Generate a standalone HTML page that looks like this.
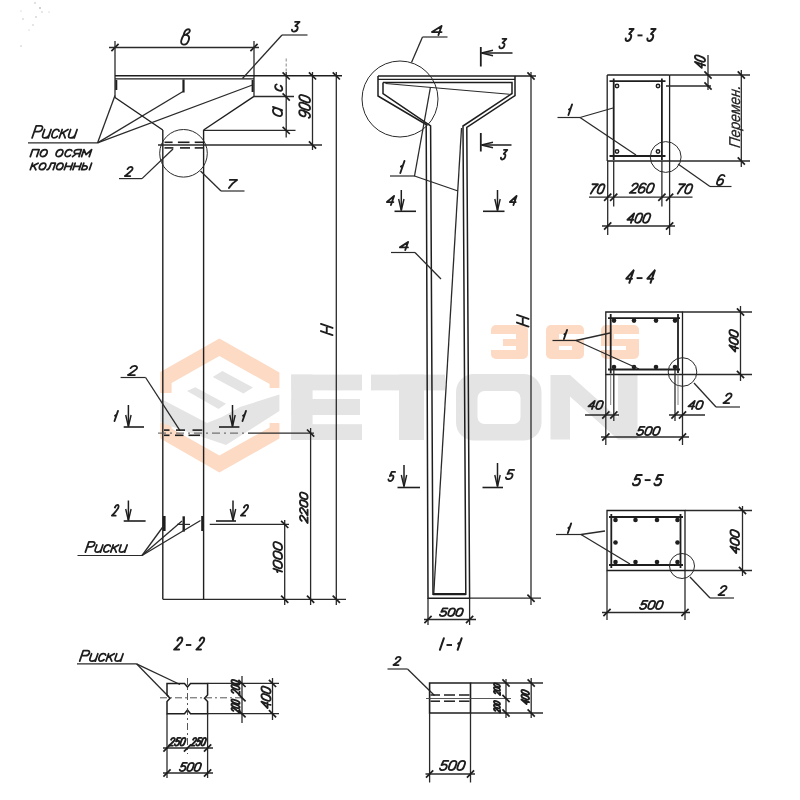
<!DOCTYPE html>
<html><head><meta charset="utf-8"><title>drawing</title>
<style>html,body{margin:0;padding:0;background:#fff;}body{width:800px;height:800px;overflow:hidden;font-family:"Liberation Sans",sans-serif;}svg{display:block;}</style>
</head><body>
<svg width="800" height="800" viewBox="0 0 800 800" font-family="Liberation Sans, sans-serif" style="will-change:transform">
<polygon points="160.3,393 160.3,372 219.4,338.4 279.4,372.5 279.4,388 269.6,388 269.6,384 219.4,356 171.6,383 171.6,393" fill="#fcdac3"/>
<polygon points="160.3,423 160.3,438.5 219.4,472.5 279.4,438.5 279.4,423 269.6,423 269.6,427.5 219.4,455.6 171.6,428.5 171.6,423" fill="#fcdac3"/>
<polygon points="212.75,377 222.4,370.9 253,387.5 243.4,393.6" fill="#e4e4e4"/>
<polygon points="187,391 195.25,387.25 226,403.75 218.5,409" fill="#e4e4e4"/>
<polygon points="160.3,398.5 207,423 222,417 240,407 279.4,394.5 279.4,411 226,445 160.3,422.5" fill="#e4e4e4"/>
<rect x="291.2" y="374.6" width="70.8" height="15.8" fill="#e4e4e4"/>
<rect x="291.2" y="374.6" width="21.4" height="65.4" fill="#e4e4e4"/>
<rect x="291.2" y="399" width="68.8" height="16" fill="#e4e4e4"/>
<rect x="291.2" y="424.2" width="70.8" height="15.8" fill="#e4e4e4"/>
<rect x="371" y="374.6" width="74" height="15.8" fill="#e4e4e4"/>
<rect x="399" y="374.6" width="25" height="65.4" fill="#e4e4e4"/>
<rect x="456" y="374" width="85.5" height="66.5" rx="18" fill="#e4e4e4"/>
<rect x="477.5" y="391" width="43" height="33" rx="7" fill="#fff"/>
<polygon points="550.5,375 570,375 618,418 618,375 637.5,375 637.5,439.5 618,439.5 570,396.5 570,439.5 550.5,439.5" fill="#e4e4e4"/>
<rect x="491" y="325" width="37" height="34" rx="5" fill="#fcdac3"/>
<rect x="490" y="334" width="26" height="5" fill="#fff"/>
<rect x="490" y="346" width="26" height="4" fill="#fff"/>
<rect x="490" y="338" width="13" height="9" fill="#fff"/>
<rect x="546" y="325" width="38" height="34" rx="5" fill="#fcdac3"/>
<rect x="559" y="334" width="26" height="5" fill="#fff"/>
<rect x="559" y="346" width="13" height="4" fill="#fff"/>
<rect x="601" y="325" width="38" height="34" rx="5" fill="#fcdac3"/>
<rect x="614" y="334" width="26" height="5" fill="#fff"/>
<rect x="600" y="346" width="26" height="4" fill="#fff"/>
<line x1="109" y1="47.5" x2="259" y2="47.5" stroke="#2a2a2a" stroke-width="1.3"/>
<line x1="111.4" y1="51.1" x2="118.6" y2="43.9" stroke="#1e1e1e" stroke-width="1.7"/>
<line x1="250.4" y1="51.1" x2="257.6" y2="43.9" stroke="#1e1e1e" stroke-width="1.7"/>
<line x1="115" y1="41" x2="115" y2="98" stroke="#2a2a2a" stroke-width="1.3"/>
<line x1="254" y1="41" x2="254" y2="96.5" stroke="#2a2a2a" stroke-width="1.3"/>
<g transform="translate(180.2 45.5) translate(0.19 -0.93) skewX(-9) scale(1.3712 1.5350)" fill="none" stroke="#1e1e1e" stroke-width="1.85" stroke-linecap="round" stroke-linejoin="round"><path vector-effect="non-scaling-stroke" transform="translate(0 0)" d="M1.2,-6 C3.5,-6.8 6,-6 5.6,-3.2 C5.3,-1 4,0 2.5,0 C0.8,0 0,-1.2 0.2,-2.8 C0.4,-4.2 0.7,-5.2 1.2,-6 Z M1.2,-6 C1.4,-8.6 2.6,-10 4,-10 C5.4,-10 5.7,-8.8 4.8,-7.8 C4,-7 2.8,-6.4 1.2,-6"/></g>
<line x1="115" y1="75.7" x2="342" y2="75.7" stroke="#1e1e1e" stroke-width="1.4"/>
<line x1="115" y1="78.9" x2="254" y2="78.9" stroke="#1e1e1e" stroke-width="1.4"/>
<line x1="116.3" y1="80" x2="116.3" y2="90" stroke="#1e1e1e" stroke-width="2"/>
<line x1="183.5" y1="79.5" x2="183.5" y2="92.5" stroke="#1e1e1e" stroke-width="2.2"/>
<line x1="252.6" y1="80" x2="252.6" y2="92" stroke="#1e1e1e" stroke-width="2"/>
<line x1="115" y1="97.5" x2="162.8" y2="130" stroke="#1e1e1e" stroke-width="1.4"/>
<line x1="254" y1="96.3" x2="203.6" y2="130" stroke="#1e1e1e" stroke-width="1.4"/>
<line x1="162.8" y1="130" x2="162.8" y2="599.3" stroke="#1e1e1e" stroke-width="1.4"/>
<line x1="203.6" y1="130" x2="203.6" y2="599.3" stroke="#1e1e1e" stroke-width="1.4"/>
<line x1="162.8" y1="599.3" x2="346" y2="599.3" stroke="#2a2a2a" stroke-width="1.2"/>
<line x1="254" y1="96.5" x2="294" y2="96.5" stroke="#2a2a2a" stroke-width="1.3"/>
<line x1="203.6" y1="130.4" x2="295.5" y2="130.4" stroke="#2a2a2a" stroke-width="1.3"/>
<line x1="158" y1="145" x2="322" y2="145" stroke="#2a2a2a" stroke-width="1.3"/>
<line x1="286.2" y1="58.5" x2="286.2" y2="72" stroke="#888" stroke-width="1" stroke-dasharray="3,2"/>
<line x1="286.2" y1="72" x2="286.2" y2="137.5" stroke="#2a2a2a" stroke-width="1.3"/>
<line x1="282.6" y1="72.3" x2="289.8" y2="79.5" stroke="#1e1e1e" stroke-width="1.7"/>
<line x1="282.6" y1="93.4" x2="289.8" y2="100.6" stroke="#1e1e1e" stroke-width="1.7"/>
<line x1="282.6" y1="126.8" x2="289.8" y2="134" stroke="#1e1e1e" stroke-width="1.7"/>
<g transform="translate(283.2 91.7) rotate(-90) translate(0 -0.93) skewX(-19) scale(0.9230 0.7150)" fill="none" stroke="#1e1e1e" stroke-width="1.85" stroke-linecap="round" stroke-linejoin="round"><path vector-effect="non-scaling-stroke" transform="translate(0 0)" d="M5.8,-7.8 C5.2,-9.3 4.2,-10 3,-10 C1.2,-10 0,-8 0,-5 C0,-2 1.2,0 3,0 C4.2,0 5.2,-0.7 5.8,-2.2"/></g>
<g transform="translate(283 117) rotate(-90) translate(-0.28 -0.93) skewX(-19) scale(1.2009 0.9150)" fill="none" stroke="#1e1e1e" stroke-width="1.85" stroke-linecap="round" stroke-linejoin="round"><path vector-effect="non-scaling-stroke" transform="translate(0 0)" d="M6,-10 V0 M6,-5 C6,-2 4.7,0 3,0 C1.3,0 0,-2 0,-5 C0,-8 1.3,-10 3,-10 C4.7,-10 6,-8 6,-5"/></g>
<line x1="312.5" y1="72" x2="312.5" y2="150" stroke="#2a2a2a" stroke-width="1.3"/>
<line x1="308.9" y1="72.3" x2="316.1" y2="79.5" stroke="#1e1e1e" stroke-width="1.7"/>
<line x1="308.9" y1="141.4" x2="316.1" y2="148.6" stroke="#1e1e1e" stroke-width="1.7"/>
<g transform="translate(311 118.7) rotate(-90) translate(0.01 -0.93) skewX(-19) scale(0.9358 1.0850)" fill="none" stroke="#1e1e1e" stroke-width="1.85" stroke-linecap="round" stroke-linejoin="round"><path vector-effect="non-scaling-stroke" transform="translate(0 0)" d="M0.5,-1.2 C1,-0.4 1.9,0 3,0 C5,0 6,-1.8 6,-5 V-7 C6,-8.9 4.8,-10 3,-10 C1.2,-10 0,-8.8 0,-7 C0,-5.2 1.2,-4.1 3,-4.1 C4.4,-4.1 5.5,-4.8 6,-6"/><path vector-effect="non-scaling-stroke" transform="translate(8.2 0)" d="M3,-10 C5,-10 6,-8.6 6,-6.5 V-3.5 C6,-1.4 5,0 3,0 C1,0 0,-1.4 0,-3.5 V-6.5 C0,-8.6 1,-10 3,-10 Z"/><path vector-effect="non-scaling-stroke" transform="translate(16.4 0)" d="M3,-10 C5,-10 6,-8.6 6,-6.5 V-3.5 C6,-1.4 5,0 3,0 C1,0 0,-1.4 0,-3.5 V-6.5 C0,-8.6 1,-10 3,-10 Z"/></g>
<line x1="336.3" y1="72" x2="336.3" y2="605" stroke="#2a2a2a" stroke-width="1.3"/>
<line x1="332.7" y1="72.3" x2="339.9" y2="79.5" stroke="#1e1e1e" stroke-width="1.7"/>
<line x1="332.7" y1="595.7" x2="339.9" y2="602.9" stroke="#1e1e1e" stroke-width="1.7"/>
<g transform="translate(333.5 336) rotate(-90) translate(0.93 -0.93) skewX(-19) scale(1.1898 1.1650)" fill="none" stroke="#1e1e1e" stroke-width="1.85" stroke-linecap="round" stroke-linejoin="round"><path vector-effect="non-scaling-stroke" transform="translate(0 0)" d="M0,-10 V0 M6,-10 V0 M0,-5 H6"/></g>
<circle cx="183.5" cy="153.3" r="23.8" fill="none" stroke="#2a2a2a" stroke-width="1"/>
<line x1="164.5" y1="142.3" x2="172.6" y2="142.3" stroke="#1e1e1e" stroke-width="1.6"/>
<line x1="177.9" y1="142.3" x2="189.5" y2="142.3" stroke="#1e1e1e" stroke-width="1.6"/>
<line x1="194.7" y1="142.3" x2="203" y2="142.3" stroke="#1e1e1e" stroke-width="1.6"/>
<line x1="164.5" y1="147.9" x2="173.4" y2="147.9" stroke="#1e1e1e" stroke-width="1.6"/>
<line x1="180" y1="147.9" x2="190" y2="147.9" stroke="#1e1e1e" stroke-width="1.6"/>
<line x1="194.7" y1="147.9" x2="203" y2="147.9" stroke="#1e1e1e" stroke-width="1.6"/>
<g transform="translate(124 177) translate(0.93 -0.93) skewX(-19) scale(0.8885 0.9150)" fill="none" stroke="#1e1e1e" stroke-width="1.85" stroke-linecap="round" stroke-linejoin="round"><path vector-effect="non-scaling-stroke" transform="translate(0 0)" d="M0.2,-7.6 C0.5,-9.1 1.6,-10 3,-10 C4.7,-10 5.8,-9 5.8,-7.4 C5.8,-5.6 4.2,-4.4 0,0 H6"/></g>
<line x1="119" y1="178.6" x2="142" y2="178.6" stroke="#2a2a2a" stroke-width="1.2"/>
<line x1="142" y1="178.6" x2="173" y2="149" stroke="#2a2a2a" stroke-width="1.3"/>
<g transform="translate(228 189) translate(-1.02 -0.93) skewX(-19) scale(1.2145 0.8150)" fill="none" stroke="#1e1e1e" stroke-width="1.85" stroke-linecap="round" stroke-linejoin="round"><path vector-effect="non-scaling-stroke" transform="translate(0 0)" d="M0,-10 H6 C3.8,-7.5 2.4,-4.5 1.6,0"/></g>
<line x1="221" y1="191" x2="244.5" y2="191" stroke="#2a2a2a" stroke-width="1.2"/>
<line x1="221" y1="191" x2="200.5" y2="171" stroke="#2a2a2a" stroke-width="1.3"/>
<g transform="translate(291 32.5) translate(0.27 -0.93) skewX(-19) scale(0.8905 0.9650)" fill="none" stroke="#1e1e1e" stroke-width="1.85" stroke-linecap="round" stroke-linejoin="round"><path vector-effect="non-scaling-stroke" transform="translate(0 0)" d="M0.6,-10 H5.6 L2.4,-5.8 C4.6,-5.9 6,-4.5 6,-2.8 C6,-1 4.6,0 3,0 C1.5,0 0.4,-0.7 0,-2"/></g>
<line x1="282" y1="35" x2="307.5" y2="35" stroke="#2a2a2a" stroke-width="1.2"/>
<line x1="242.5" y1="78.5" x2="282" y2="35" stroke="#2a2a2a" stroke-width="1.3"/>
<g transform="translate(31.2 138.8) translate(0.88 -0.88) skewX(-19) scale(1.1773 1.2050)" fill="none" stroke="#1e1e1e" stroke-width="1.75" stroke-linecap="round" stroke-linejoin="round"><path vector-effect="non-scaling-stroke" transform="translate(0 0)" d="M0,0 V-10 H3.6 C5.2,-10 6,-9 6,-7.6 C6,-6.2 5.2,-5.2 3.6,-5.2 H0"/><path vector-effect="non-scaling-stroke" transform="translate(8.2 0)" d="M0,-7 V-2.5 C0,-0.8 1,0 2.6,0 C4.2,0 5.5,-0.8 5.5,-2.5 V-7 M5.5,-2.5 V0"/><path vector-effect="non-scaling-stroke" transform="translate(15.9 0)" d="M5,-5.6 C4.6,-6.6 3.7,-7 2.6,-7 C1.1,-7 0,-5.6 0,-3.5 C0,-1.4 1.1,0 2.6,0 C3.7,0 4.6,-0.4 5,-1.4"/><path vector-effect="non-scaling-stroke" transform="translate(23.1 0)" d="M0,-7 V0 M0,-3.3 L5,-7 M1.7,-4.5 L5,0"/><path vector-effect="non-scaling-stroke" transform="translate(30.3 0)" d="M0,-7 V-2.5 C0,-0.8 1,0 2.6,0 C4.2,0 5.5,-0.8 5.5,-2.5 V-7 M5.5,-2.5 V0"/></g>
<line x1="28" y1="142.9" x2="97.5" y2="142.9" stroke="#2a2a2a" stroke-width="1.2"/>
<line x1="97.5" y1="142.9" x2="115" y2="95.5" stroke="#2a2a2a" stroke-width="1.3"/>
<line x1="97.5" y1="142.9" x2="183" y2="91.5" stroke="#2a2a2a" stroke-width="1.3"/>
<line x1="97.5" y1="142.9" x2="252.5" y2="85" stroke="#2a2a2a" stroke-width="1.3"/>
<g transform="translate(29.4 157.5) translate(0.88 -0.88) skewX(-19) scale(1.1738 1.0071)" fill="none" stroke="#1e1e1e" stroke-width="1.75" stroke-linecap="round" stroke-linejoin="round"><path vector-effect="non-scaling-stroke" transform="translate(0 0)" d="M0,0 V-7 H5.5 V0"/><path vector-effect="non-scaling-stroke" transform="translate(7.7 0)" d="M2.75,-7 C4.3,-7 5.5,-5.6 5.5,-3.5 C5.5,-1.4 4.3,0 2.75,0 C1.2,0 0,-1.4 0,-3.5 C0,-5.6 1.2,-7 2.75,-7 Z"/><path vector-effect="non-scaling-stroke" transform="translate(15.4 0)" d=""/><path vector-effect="non-scaling-stroke" transform="translate(21.1 0)" d="M2.75,-7 C4.3,-7 5.5,-5.6 5.5,-3.5 C5.5,-1.4 4.3,0 2.75,0 C1.2,0 0,-1.4 0,-3.5 C0,-5.6 1.2,-7 2.75,-7 Z"/><path vector-effect="non-scaling-stroke" transform="translate(28.8 0)" d="M5,-5.6 C4.6,-6.6 3.7,-7 2.6,-7 C1.1,-7 0,-5.6 0,-3.5 C0,-1.4 1.1,0 2.6,0 C3.7,0 4.6,-0.4 5,-1.4"/><path vector-effect="non-scaling-stroke" transform="translate(36 0)" d="M5.5,0 V-7 H2.4 C1,-7 0,-6.2 0,-5 C0,-3.8 1,-3 2.4,-3 H5.5 M2.4,-3 L0,0"/><path vector-effect="non-scaling-stroke" transform="translate(43.7 0)" d="M0,0 V-7 L3.25,-2 L6.5,-7 V0"/></g>
<g transform="translate(29.4 170.6) translate(0.88 -0.88) skewX(-19) scale(1.1213 0.9357)" fill="none" stroke="#1e1e1e" stroke-width="1.75" stroke-linecap="round" stroke-linejoin="round"><path vector-effect="non-scaling-stroke" transform="translate(0 0)" d="M0,-7 V0 M0,-3.3 L5,-7 M1.7,-4.5 L5,0"/><path vector-effect="non-scaling-stroke" transform="translate(7.2 0)" d="M2.75,-7 C4.3,-7 5.5,-5.6 5.5,-3.5 C5.5,-1.4 4.3,0 2.75,0 C1.2,0 0,-1.4 0,-3.5 C0,-5.6 1.2,-7 2.75,-7 Z"/><path vector-effect="non-scaling-stroke" transform="translate(14.9 0)" d="M0,0 C1,0 1.5,-1 1.6,-3 L1.8,-7 H5.5 V0"/><path vector-effect="non-scaling-stroke" transform="translate(22.6 0)" d="M2.75,-7 C4.3,-7 5.5,-5.6 5.5,-3.5 C5.5,-1.4 4.3,0 2.75,0 C1.2,0 0,-1.4 0,-3.5 C0,-5.6 1.2,-7 2.75,-7 Z"/><path vector-effect="non-scaling-stroke" transform="translate(30.3 0)" d="M0,-7 V0 M5.5,-7 V0 M0,-3.5 H5.5"/><path vector-effect="non-scaling-stroke" transform="translate(38 0)" d="M0,-7 V0 M5.5,-7 V0 M0,-3.5 H5.5"/><path vector-effect="non-scaling-stroke" transform="translate(45.7 0)" d="M0,-7 V0 H2.4 C3.6,0 4.4,-0.8 4.4,-2 C4.4,-3.2 3.6,-4 2.4,-4 H0 M7,-7 V0"/></g>
<g transform="translate(127 376) translate(0.93 -0.93) skewX(-19) scale(1.1530 0.9150)" fill="none" stroke="#1e1e1e" stroke-width="1.85" stroke-linecap="round" stroke-linejoin="round"><path vector-effect="non-scaling-stroke" transform="translate(0 0)" d="M0.2,-7.6 C0.5,-9.1 1.6,-10 3,-10 C4.7,-10 5.8,-9 5.8,-7.4 C5.8,-5.6 4.2,-4.4 0,0 H6"/></g>
<line x1="120.6" y1="377.5" x2="145.6" y2="377.5" stroke="#2a2a2a" stroke-width="1.2"/>
<line x1="145.6" y1="377.5" x2="180" y2="430.6" stroke="#2a2a2a" stroke-width="1.3"/>
<g transform="translate(113 422) translate(-0.78 -0.93) skewX(-19) scale(0.7613 1.0150)" fill="none" stroke="#1e1e1e" stroke-width="1.85" stroke-linecap="round" stroke-linejoin="round"><path vector-effect="non-scaling-stroke" transform="translate(0 0)" d="M1.2,-5.3 L3,-6.4 M3,-10 V0"/></g>
<line x1="128.4" y1="405" x2="128.4" y2="426.5" stroke="#1e1e1e" stroke-width="1.5"/>
<polyline points="125.7,415 128.4,426.5 131.1,415" fill="none" stroke="#1e1e1e" stroke-width="1.4" stroke-linejoin="miter"/>
<line x1="123.7" y1="427" x2="144" y2="427" stroke="#1e1e1e" stroke-width="1.6"/>
<line x1="232.5" y1="405" x2="232.5" y2="426.5" stroke="#1e1e1e" stroke-width="1.5"/>
<polyline points="229.8,415 232.5,426.5 235.2,415" fill="none" stroke="#1e1e1e" stroke-width="1.4" stroke-linejoin="miter"/>
<line x1="219" y1="427" x2="239.4" y2="427" stroke="#1e1e1e" stroke-width="1.6"/>
<g transform="translate(241 422) translate(-0.78 -0.93) skewX(-19) scale(0.7613 1.0150)" fill="none" stroke="#1e1e1e" stroke-width="1.85" stroke-linecap="round" stroke-linejoin="round"><path vector-effect="non-scaling-stroke" transform="translate(0 0)" d="M1.2,-5.3 L3,-6.4 M3,-10 V0"/></g>
<line x1="164" y1="430.1" x2="169.5" y2="430.1" stroke="#1e1e1e" stroke-width="1.6"/>
<line x1="176" y1="430.1" x2="185" y2="430.1" stroke="#1e1e1e" stroke-width="1.6"/>
<line x1="192.5" y1="430.1" x2="202.3" y2="430.1" stroke="#1e1e1e" stroke-width="1.6"/>
<line x1="164" y1="435.3" x2="169.5" y2="435.3" stroke="#1e1e1e" stroke-width="1.6"/>
<line x1="175" y1="435.3" x2="183.5" y2="435.3" stroke="#1e1e1e" stroke-width="1.6"/>
<line x1="188.5" y1="435.3" x2="200" y2="435.3" stroke="#1e1e1e" stroke-width="1.6"/>
<line x1="158" y1="433.1" x2="248" y2="433.1" stroke="#555" stroke-width="1" stroke-dasharray="8,4,2,4"/>
<line x1="248" y1="433.1" x2="314" y2="433.1" stroke="#2a2a2a" stroke-width="1.3"/>
<line x1="310.6" y1="428" x2="310.6" y2="605" stroke="#2a2a2a" stroke-width="1.3"/>
<line x1="307" y1="429.5" x2="314.2" y2="436.7" stroke="#1e1e1e" stroke-width="1.7"/>
<line x1="307" y1="595.7" x2="314.2" y2="602.9" stroke="#1e1e1e" stroke-width="1.7"/>
<g transform="translate(308.5 524) rotate(-90) translate(0.93 -0.93) skewX(-19) scale(0.9391 0.7650)" fill="none" stroke="#1e1e1e" stroke-width="1.85" stroke-linecap="round" stroke-linejoin="round"><path vector-effect="non-scaling-stroke" transform="translate(0 0)" d="M0.2,-7.6 C0.5,-9.1 1.6,-10 3,-10 C4.7,-10 5.8,-9 5.8,-7.4 C5.8,-5.6 4.2,-4.4 0,0 H6"/><path vector-effect="non-scaling-stroke" transform="translate(8.2 0)" d="M0.2,-7.6 C0.5,-9.1 1.6,-10 3,-10 C4.7,-10 5.8,-9 5.8,-7.4 C5.8,-5.6 4.2,-4.4 0,0 H6"/><path vector-effect="non-scaling-stroke" transform="translate(16.4 0)" d="M3,-10 C5,-10 6,-8.6 6,-6.5 V-3.5 C6,-1.4 5,0 3,0 C1,0 0,-1.4 0,-3.5 V-6.5 C0,-8.6 1,-10 3,-10 Z"/><path vector-effect="non-scaling-stroke" transform="translate(24.6 0)" d="M3,-10 C5,-10 6,-8.6 6,-6.5 V-3.5 C6,-1.4 5,0 3,0 C1,0 0,-1.4 0,-3.5 V-6.5 C0,-8.6 1,-10 3,-10 Z"/></g>
<g transform="translate(111 516.6) translate(0.93 -0.93) skewX(-19) scale(0.6234 1.0750)" fill="none" stroke="#1e1e1e" stroke-width="1.85" stroke-linecap="round" stroke-linejoin="round"><path vector-effect="non-scaling-stroke" transform="translate(0 0)" d="M0.2,-7.6 C0.5,-9.1 1.6,-10 3,-10 C4.7,-10 5.8,-9 5.8,-7.4 C5.8,-5.6 4.2,-4.4 0,0 H6"/></g>
<line x1="128.4" y1="500.5" x2="128.4" y2="520.5" stroke="#1e1e1e" stroke-width="1.5"/>
<polyline points="125.7,509 128.4,520.5 131.1,509" fill="none" stroke="#1e1e1e" stroke-width="1.4" stroke-linejoin="miter"/>
<line x1="123.7" y1="521" x2="145.6" y2="521" stroke="#1e1e1e" stroke-width="1.6"/>
<line x1="233" y1="500.5" x2="233" y2="520.5" stroke="#1e1e1e" stroke-width="1.5"/>
<polyline points="230.3,509 233,520.5 235.7,509" fill="none" stroke="#1e1e1e" stroke-width="1.4" stroke-linejoin="miter"/>
<line x1="216" y1="521" x2="236" y2="521" stroke="#1e1e1e" stroke-width="1.6"/>
<g transform="translate(240 516.6) translate(0.93 -0.93) skewX(-19) scale(0.7146 1.0750)" fill="none" stroke="#1e1e1e" stroke-width="1.85" stroke-linecap="round" stroke-linejoin="round"><path vector-effect="non-scaling-stroke" transform="translate(0 0)" d="M0.2,-7.6 C0.5,-9.1 1.6,-10 3,-10 C4.7,-10 5.8,-9 5.8,-7.4 C5.8,-5.6 4.2,-4.4 0,0 H6"/></g>
<line x1="209.7" y1="524.4" x2="289" y2="524.4" stroke="#2a2a2a" stroke-width="1.3"/>
<line x1="284.7" y1="520" x2="284.7" y2="605" stroke="#2a2a2a" stroke-width="1.3"/>
<line x1="281.1" y1="520.8" x2="288.3" y2="528" stroke="#1e1e1e" stroke-width="1.7"/>
<line x1="281.1" y1="595.7" x2="288.3" y2="602.9" stroke="#1e1e1e" stroke-width="1.7"/>
<g transform="translate(283 573) rotate(-90) translate(-2 -0.93) skewX(-19) scale(1.1203 0.8650)" fill="none" stroke="#1e1e1e" stroke-width="1.85" stroke-linecap="round" stroke-linejoin="round"><path vector-effect="non-scaling-stroke" transform="translate(0 0)" d="M1.2,-5.3 L3,-6.4 M3,-10 V0"/><path vector-effect="non-scaling-stroke" transform="translate(5.2 0)" d="M3,-10 C5,-10 6,-8.6 6,-6.5 V-3.5 C6,-1.4 5,0 3,0 C1,0 0,-1.4 0,-3.5 V-6.5 C0,-8.6 1,-10 3,-10 Z"/><path vector-effect="non-scaling-stroke" transform="translate(13.4 0)" d="M3,-10 C5,-10 6,-8.6 6,-6.5 V-3.5 C6,-1.4 5,0 3,0 C1,0 0,-1.4 0,-3.5 V-6.5 C0,-8.6 1,-10 3,-10 Z"/><path vector-effect="non-scaling-stroke" transform="translate(21.6 0)" d="M3,-10 C5,-10 6,-8.6 6,-6.5 V-3.5 C6,-1.4 5,0 3,0 C1,0 0,-1.4 0,-3.5 V-6.5 C0,-8.6 1,-10 3,-10 Z"/></g>
<line x1="164.3" y1="516" x2="164.3" y2="531" stroke="#1e1e1e" stroke-width="2.6"/>
<line x1="183.7" y1="516.3" x2="183.7" y2="531.6" stroke="#1e1e1e" stroke-width="2.4"/>
<line x1="177" y1="524.4" x2="190" y2="524.4" stroke="#2a2a2a" stroke-width="1.2"/>
<line x1="202.5" y1="516" x2="202.5" y2="531" stroke="#1e1e1e" stroke-width="2.6"/>
<g transform="translate(84.5 553) translate(0.88 -0.88) skewX(-19) scale(1.0972 1.0250)" fill="none" stroke="#1e1e1e" stroke-width="1.75" stroke-linecap="round" stroke-linejoin="round"><path vector-effect="non-scaling-stroke" transform="translate(0 0)" d="M0,0 V-10 H3.6 C5.2,-10 6,-9 6,-7.6 C6,-6.2 5.2,-5.2 3.6,-5.2 H0"/><path vector-effect="non-scaling-stroke" transform="translate(8.2 0)" d="M0,-7 V-2.5 C0,-0.8 1,0 2.6,0 C4.2,0 5.5,-0.8 5.5,-2.5 V-7 M5.5,-2.5 V0"/><path vector-effect="non-scaling-stroke" transform="translate(15.9 0)" d="M5,-5.6 C4.6,-6.6 3.7,-7 2.6,-7 C1.1,-7 0,-5.6 0,-3.5 C0,-1.4 1.1,0 2.6,0 C3.7,0 4.6,-0.4 5,-1.4"/><path vector-effect="non-scaling-stroke" transform="translate(23.1 0)" d="M0,-7 V0 M0,-3.3 L5,-7 M1.7,-4.5 L5,0"/><path vector-effect="non-scaling-stroke" transform="translate(30.3 0)" d="M0,-7 V-2.5 C0,-0.8 1,0 2.6,0 C4.2,0 5.5,-0.8 5.5,-2.5 V-7 M5.5,-2.5 V0"/></g>
<line x1="77.5" y1="555.5" x2="142" y2="555.5" stroke="#2a2a2a" stroke-width="1.2"/>
<line x1="142" y1="555.5" x2="163.5" y2="526" stroke="#2a2a2a" stroke-width="1.3"/>
<line x1="142" y1="555.5" x2="182" y2="521" stroke="#2a2a2a" stroke-width="1.3"/>
<line x1="142" y1="555.5" x2="200.5" y2="520.5" stroke="#2a2a2a" stroke-width="1.3"/>
<line x1="378" y1="76" x2="536" y2="76" stroke="#1e1e1e" stroke-width="1.3"/>
<line x1="378" y1="79.3" x2="515" y2="79.3" stroke="#1e1e1e" stroke-width="1.2"/>
<polyline points="378,76 378,96 426.2,124.5 428,598.2 469.6,598.2 466.8,127.5 515,95.5 515,76" fill="none" stroke="#1e1e1e" stroke-width="1.5" stroke-linejoin="miter"/>
<line x1="469.6" y1="598.2" x2="541" y2="598.2" stroke="#2a2a2a" stroke-width="1.3"/>
<polyline points="383,82.6 383,93.5 430.6,126 433,594.2 465.8,594.2 463,126 512,93.5 512,82.6 383,82.6" fill="none" stroke="#1e1e1e" stroke-width="1.5" stroke-linejoin="miter"/>
<line x1="433" y1="594.2" x2="465.8" y2="594.2" stroke="#1e1e1e" stroke-width="2.2"/>
<line x1="385.5" y1="83.5" x2="509.5" y2="94.2" stroke="#2a2a2a" stroke-width="1.1"/>
<line x1="461.5" y1="128" x2="433.8" y2="593" stroke="#2a2a2a" stroke-width="1.3"/>
<circle cx="400" cy="99" r="38" fill="none" stroke="#2a2a2a" stroke-width="1"/>
<g transform="translate(431 36) translate(-0.11 -0.93) skewX(-19) scale(1.6041 0.9150)" fill="none" stroke="#1e1e1e" stroke-width="1.85" stroke-linecap="round" stroke-linejoin="round"><path vector-effect="non-scaling-stroke" transform="translate(0 0)" d="M4.7,-10 L0,-3.3 H6 M4.7,-10 V0"/></g>
<line x1="422.5" y1="37" x2="447.5" y2="37" stroke="#2a2a2a" stroke-width="1.2"/>
<line x1="422.5" y1="37" x2="411.5" y2="62.5" stroke="#2a2a2a" stroke-width="1.3"/>
<line x1="480.8" y1="47" x2="480.8" y2="66.5" stroke="#1e1e1e" stroke-width="1.8"/>
<line x1="512.5" y1="53" x2="481.5" y2="53" stroke="#1e1e1e" stroke-width="1.5"/>
<polyline points="493,50.3 481.5,53 493,55.7" fill="none" stroke="#1e1e1e" stroke-width="1.4" stroke-linejoin="miter"/>
<g transform="translate(498.5 49.3) translate(0.28 -0.93) skewX(-19) scale(0.7688 0.9550)" fill="none" stroke="#1e1e1e" stroke-width="1.85" stroke-linecap="round" stroke-linejoin="round"><path vector-effect="non-scaling-stroke" transform="translate(0 0)" d="M0.6,-10 H5.6 L2.4,-5.8 C4.6,-5.9 6,-4.5 6,-2.8 C6,-1 4.6,0 3,0 C1.5,0 0.4,-0.7 0,-2"/></g>
<line x1="480.8" y1="133" x2="480.8" y2="151.5" stroke="#1e1e1e" stroke-width="1.8"/>
<line x1="511.5" y1="145" x2="481.5" y2="145" stroke="#1e1e1e" stroke-width="1.5"/>
<polyline points="493,142.3 481.5,145 493,147.7" fill="none" stroke="#1e1e1e" stroke-width="1.4" stroke-linejoin="miter"/>
<g transform="translate(500 160.4) translate(0.3 -0.93) skewX(-19) scale(0.6588 0.9550)" fill="none" stroke="#1e1e1e" stroke-width="1.85" stroke-linecap="round" stroke-linejoin="round"><path vector-effect="non-scaling-stroke" transform="translate(0 0)" d="M0.6,-10 H5.6 L2.4,-5.8 C4.6,-5.9 6,-4.5 6,-2.8 C6,-1 4.6,0 3,0 C1.5,0 0.4,-0.7 0,-2"/></g>
<g transform="translate(399 174) translate(-1.43 -0.93) skewX(-19) scale(0.9113 1.2150)" fill="none" stroke="#1e1e1e" stroke-width="1.85" stroke-linecap="round" stroke-linejoin="round"><path vector-effect="non-scaling-stroke" transform="translate(0 0)" d="M1.2,-5.3 L3,-6.4 M3,-10 V0"/></g>
<line x1="390" y1="176" x2="415" y2="176" stroke="#2a2a2a" stroke-width="1.2"/>
<line x1="414.5" y1="176" x2="430.5" y2="87" stroke="#2a2a2a" stroke-width="1.3"/>
<line x1="414.5" y1="176" x2="458" y2="191" stroke="#2a2a2a" stroke-width="1.3"/>
<g transform="translate(386 206) translate(-0.11 -0.93) skewX(-19) scale(1.0721 0.9150)" fill="none" stroke="#1e1e1e" stroke-width="1.85" stroke-linecap="round" stroke-linejoin="round"><path vector-effect="non-scaling-stroke" transform="translate(0 0)" d="M4.7,-10 L0,-3.3 H6 M4.7,-10 V0"/></g>
<line x1="401.3" y1="190" x2="401.3" y2="210.5" stroke="#1e1e1e" stroke-width="1.5"/>
<polyline points="398.6,199 401.3,210.5 404,199" fill="none" stroke="#1e1e1e" stroke-width="1.4" stroke-linejoin="miter"/>
<line x1="394.5" y1="211.3" x2="416" y2="211.3" stroke="#1e1e1e" stroke-width="1.6"/>
<line x1="497.5" y1="190" x2="497.5" y2="210.5" stroke="#1e1e1e" stroke-width="1.5"/>
<polyline points="494.8,199 497.5,210.5 500.2,199" fill="none" stroke="#1e1e1e" stroke-width="1.4" stroke-linejoin="miter"/>
<line x1="483" y1="211.3" x2="504.5" y2="211.3" stroke="#1e1e1e" stroke-width="1.6"/>
<g transform="translate(509 206) translate(-0.11 -0.93) skewX(-19) scale(0.9658 0.9150)" fill="none" stroke="#1e1e1e" stroke-width="1.85" stroke-linecap="round" stroke-linejoin="round"><path vector-effect="non-scaling-stroke" transform="translate(0 0)" d="M4.7,-10 L0,-3.3 H6 M4.7,-10 V0"/></g>
<g transform="translate(399 251) translate(-0 -0.93) skewX(-19) scale(1.3340 0.8150)" fill="none" stroke="#1e1e1e" stroke-width="1.85" stroke-linecap="round" stroke-linejoin="round"><path vector-effect="non-scaling-stroke" transform="translate(0 0)" d="M4.7,-10 L0,-3.3 H6 M4.7,-10 V0"/></g>
<line x1="391" y1="252.5" x2="415" y2="252.5" stroke="#2a2a2a" stroke-width="1.2"/>
<line x1="415" y1="252.5" x2="441" y2="279" stroke="#2a2a2a" stroke-width="1.3"/>
<line x1="531" y1="72" x2="531" y2="605" stroke="#2a2a2a" stroke-width="1.3"/>
<line x1="527.4" y1="72.4" x2="534.6" y2="79.6" stroke="#1e1e1e" stroke-width="1.7"/>
<line x1="527.4" y1="594.6" x2="534.6" y2="601.8" stroke="#1e1e1e" stroke-width="1.7"/>
<g transform="translate(529.5 327.5) rotate(-90) translate(0.93 -0.93) skewX(-19) scale(1.2731 1.1650)" fill="none" stroke="#1e1e1e" stroke-width="1.85" stroke-linecap="round" stroke-linejoin="round"><path vector-effect="non-scaling-stroke" transform="translate(0 0)" d="M0,-10 V0 M6,-10 V0 M0,-5 H6"/></g>
<g transform="translate(387.5 482) translate(0.37 -0.93) skewX(-19) scale(0.7247 0.9150)" fill="none" stroke="#1e1e1e" stroke-width="1.85" stroke-linecap="round" stroke-linejoin="round"><path vector-effect="non-scaling-stroke" transform="translate(0 0)" d="M5.6,-10 H1 L0.4,-5.5 C1.2,-6 2,-6.3 3,-6.3 C4.9,-6.3 6,-5 6,-3.1 C6,-1.2 4.7,0 3,0 C1.5,0 0.4,-0.6 0,-1.8"/></g>
<line x1="404" y1="465" x2="404" y2="486.5" stroke="#1e1e1e" stroke-width="1.5"/>
<polyline points="401.3,475 404,486.5 406.7,475" fill="none" stroke="#1e1e1e" stroke-width="1.4" stroke-linejoin="miter"/>
<line x1="397.5" y1="487.5" x2="420" y2="487.5" stroke="#1e1e1e" stroke-width="1.6"/>
<line x1="497.5" y1="463" x2="497.5" y2="486.5" stroke="#1e1e1e" stroke-width="1.5"/>
<polyline points="494.8,475 497.5,486.5 500.2,475" fill="none" stroke="#1e1e1e" stroke-width="1.4" stroke-linejoin="miter"/>
<line x1="482.5" y1="487.5" x2="503" y2="487.5" stroke="#1e1e1e" stroke-width="1.6"/>
<g transform="translate(505 480) translate(0.36 -0.93) skewX(-19) scale(0.9940 0.9150)" fill="none" stroke="#1e1e1e" stroke-width="1.85" stroke-linecap="round" stroke-linejoin="round"><path vector-effect="non-scaling-stroke" transform="translate(0 0)" d="M5.6,-10 H1 L0.4,-5.5 C1.2,-6 2,-6.3 3,-6.3 C4.9,-6.3 6,-5 6,-3.1 C6,-1.2 4.7,0 3,0 C1.5,0 0.4,-0.6 0,-1.8"/></g>
<line x1="428" y1="598.2" x2="428" y2="625" stroke="#2a2a2a" stroke-width="1.3"/>
<line x1="469.6" y1="598.2" x2="469.6" y2="625" stroke="#2a2a2a" stroke-width="1.3"/>
<line x1="424" y1="619.5" x2="476" y2="619.5" stroke="#2a2a2a" stroke-width="1.3"/>
<line x1="424.4" y1="623.1" x2="431.6" y2="615.9" stroke="#1e1e1e" stroke-width="1.7"/>
<line x1="466" y1="623.1" x2="473.2" y2="615.9" stroke="#1e1e1e" stroke-width="1.7"/>
<g transform="translate(439 617) translate(0.45 -0.93) skewX(-19) scale(0.9695 0.7650)" fill="none" stroke="#1e1e1e" stroke-width="1.85" stroke-linecap="round" stroke-linejoin="round"><path vector-effect="non-scaling-stroke" transform="translate(0 0)" d="M5.6,-10 H1 L0.4,-5.5 C1.2,-6 2,-6.3 3,-6.3 C4.9,-6.3 6,-5 6,-3.1 C6,-1.2 4.7,0 3,0 C1.5,0 0.4,-0.6 0,-1.8"/><path vector-effect="non-scaling-stroke" transform="translate(8.2 0)" d="M3,-10 C5,-10 6,-8.6 6,-6.5 V-3.5 C6,-1.4 5,0 3,0 C1,0 0,-1.4 0,-3.5 V-6.5 C0,-8.6 1,-10 3,-10 Z"/><path vector-effect="non-scaling-stroke" transform="translate(16.4 0)" d="M3,-10 C5,-10 6,-8.6 6,-6.5 V-3.5 C6,-1.4 5,0 3,0 C1,0 0,-1.4 0,-3.5 V-6.5 C0,-8.6 1,-10 3,-10 Z"/></g>
<g transform="translate(439 650.8) translate(0.84 -1) skewX(-19) scale(0.0100 1.1500)" fill="none" stroke="#1e1e1e" stroke-width="2" stroke-linecap="round" stroke-linejoin="round"><path vector-effect="non-scaling-stroke" transform="translate(0 0)" d="M1.2,-5.3 L3,-6.4 M3,-10 V0"/></g>
<line x1="446.5" y1="645" x2="452" y2="645" stroke="#1e1e1e" stroke-width="1.9"/>
<g transform="translate(456.5 650.8) translate(-1.42 -1) skewX(-19) scale(0.8625 1.1500)" fill="none" stroke="#1e1e1e" stroke-width="2" stroke-linecap="round" stroke-linejoin="round"><path vector-effect="non-scaling-stroke" transform="translate(0 0)" d="M1.2,-5.3 L3,-6.4 M3,-10 V0"/></g>
<g transform="translate(392.5 666) translate(0.93 -0.93) skewX(-19) scale(0.8507 0.8150)" fill="none" stroke="#1e1e1e" stroke-width="1.85" stroke-linecap="round" stroke-linejoin="round"><path vector-effect="non-scaling-stroke" transform="translate(0 0)" d="M0.2,-7.6 C0.5,-9.1 1.6,-10 3,-10 C4.7,-10 5.8,-9 5.8,-7.4 C5.8,-5.6 4.2,-4.4 0,0 H6"/></g>
<line x1="387.5" y1="669" x2="407.5" y2="669" stroke="#2a2a2a" stroke-width="1.2"/>
<line x1="407.5" y1="669" x2="434.5" y2="695.5" stroke="#2a2a2a" stroke-width="1.3"/>
<polygon points="429.6,683 470.5,683 470.5,713 429.6,713" fill="none" stroke="#1e1e1e" stroke-width="1.6" stroke-linejoin="miter"/>
<line x1="430.5" y1="695" x2="440" y2="695" stroke="#1e1e1e" stroke-width="1.5"/>
<line x1="444" y1="695" x2="455" y2="695" stroke="#1e1e1e" stroke-width="1.5"/>
<line x1="459" y1="695" x2="469.5" y2="695" stroke="#1e1e1e" stroke-width="1.5"/>
<line x1="430.5" y1="701.2" x2="440" y2="701.2" stroke="#1e1e1e" stroke-width="1.5"/>
<line x1="444" y1="701.2" x2="455" y2="701.2" stroke="#1e1e1e" stroke-width="1.5"/>
<line x1="459" y1="701.2" x2="469.5" y2="701.2" stroke="#1e1e1e" stroke-width="1.5"/>
<line x1="426" y1="698.5" x2="511" y2="698.5" stroke="#444" stroke-width="0.9"/>
<line x1="470.5" y1="683" x2="543" y2="683" stroke="#2a2a2a" stroke-width="1.3"/>
<line x1="470.5" y1="713" x2="543" y2="713" stroke="#2a2a2a" stroke-width="1.3"/>
<line x1="506" y1="679" x2="506" y2="718" stroke="#2a2a2a" stroke-width="1.3"/>
<line x1="502.4" y1="679.4" x2="509.6" y2="686.6" stroke="#1e1e1e" stroke-width="1.7"/>
<line x1="502.4" y1="694.9" x2="509.6" y2="702.1" stroke="#1e1e1e" stroke-width="1.7"/>
<line x1="502.4" y1="709.4" x2="509.6" y2="716.6" stroke="#1e1e1e" stroke-width="1.7"/>
<g transform="translate(501 696) rotate(-90) translate(0.93 -0.93) skewX(-19) scale(0.4479 0.6150)" fill="none" stroke="#1e1e1e" stroke-width="1.85" stroke-linecap="round" stroke-linejoin="round"><path vector-effect="non-scaling-stroke" transform="translate(0 0)" d="M0.2,-7.6 C0.5,-9.1 1.6,-10 3,-10 C4.7,-10 5.8,-9 5.8,-7.4 C5.8,-5.6 4.2,-4.4 0,0 H6"/><path vector-effect="non-scaling-stroke" transform="translate(8.2 0)" d="M3,-10 C5,-10 6,-8.6 6,-6.5 V-3.5 C6,-1.4 5,0 3,0 C1,0 0,-1.4 0,-3.5 V-6.5 C0,-8.6 1,-10 3,-10 Z"/><path vector-effect="non-scaling-stroke" transform="translate(16.4 0)" d="M3,-10 C5,-10 6,-8.6 6,-6.5 V-3.5 C6,-1.4 5,0 3,0 C1,0 0,-1.4 0,-3.5 V-6.5 C0,-8.6 1,-10 3,-10 Z"/></g>
<g transform="translate(501 713.5) rotate(-90) translate(0.93 -0.93) skewX(-19) scale(0.4479 0.6150)" fill="none" stroke="#1e1e1e" stroke-width="1.85" stroke-linecap="round" stroke-linejoin="round"><path vector-effect="non-scaling-stroke" transform="translate(0 0)" d="M0.2,-7.6 C0.5,-9.1 1.6,-10 3,-10 C4.7,-10 5.8,-9 5.8,-7.4 C5.8,-5.6 4.2,-4.4 0,0 H6"/><path vector-effect="non-scaling-stroke" transform="translate(8.2 0)" d="M3,-10 C5,-10 6,-8.6 6,-6.5 V-3.5 C6,-1.4 5,0 3,0 C1,0 0,-1.4 0,-3.5 V-6.5 C0,-8.6 1,-10 3,-10 Z"/><path vector-effect="non-scaling-stroke" transform="translate(16.4 0)" d="M3,-10 C5,-10 6,-8.6 6,-6.5 V-3.5 C6,-1.4 5,0 3,0 C1,0 0,-1.4 0,-3.5 V-6.5 C0,-8.6 1,-10 3,-10 Z"/></g>
<line x1="531.2" y1="678" x2="531.2" y2="718" stroke="#2a2a2a" stroke-width="1.3"/>
<line x1="527.6" y1="679.4" x2="534.8" y2="686.6" stroke="#1e1e1e" stroke-width="1.7"/>
<line x1="527.6" y1="709.4" x2="534.8" y2="716.6" stroke="#1e1e1e" stroke-width="1.7"/>
<g transform="translate(530 705) rotate(-90) translate(0.06 -0.93) skewX(-19) scale(0.5810 0.7650)" fill="none" stroke="#1e1e1e" stroke-width="1.85" stroke-linecap="round" stroke-linejoin="round"><path vector-effect="non-scaling-stroke" transform="translate(0 0)" d="M4.7,-10 L0,-3.3 H6 M4.7,-10 V0"/><path vector-effect="non-scaling-stroke" transform="translate(8.2 0)" d="M3,-10 C5,-10 6,-8.6 6,-6.5 V-3.5 C6,-1.4 5,0 3,0 C1,0 0,-1.4 0,-3.5 V-6.5 C0,-8.6 1,-10 3,-10 Z"/><path vector-effect="non-scaling-stroke" transform="translate(16.4 0)" d="M3,-10 C5,-10 6,-8.6 6,-6.5 V-3.5 C6,-1.4 5,0 3,0 C1,0 0,-1.4 0,-3.5 V-6.5 C0,-8.6 1,-10 3,-10 Z"/></g>
<line x1="429.6" y1="713" x2="429.6" y2="782.5" stroke="#2a2a2a" stroke-width="1.3"/>
<line x1="470.5" y1="713" x2="470.5" y2="782.5" stroke="#2a2a2a" stroke-width="1.3"/>
<line x1="425.5" y1="774" x2="475" y2="774" stroke="#2a2a2a" stroke-width="1.3"/>
<line x1="426" y1="777.6" x2="433.2" y2="770.4" stroke="#1e1e1e" stroke-width="1.7"/>
<line x1="466.9" y1="777.6" x2="474.1" y2="770.4" stroke="#1e1e1e" stroke-width="1.7"/>
<g transform="translate(439 771) translate(0.36 -0.93) skewX(-19) scale(1.0453 0.9150)" fill="none" stroke="#1e1e1e" stroke-width="1.85" stroke-linecap="round" stroke-linejoin="round"><path vector-effect="non-scaling-stroke" transform="translate(0 0)" d="M5.6,-10 H1 L0.4,-5.5 C1.2,-6 2,-6.3 3,-6.3 C4.9,-6.3 6,-5 6,-3.1 C6,-1.2 4.7,0 3,0 C1.5,0 0.4,-0.6 0,-1.8"/><path vector-effect="non-scaling-stroke" transform="translate(8.2 0)" d="M3,-10 C5,-10 6,-8.6 6,-6.5 V-3.5 C6,-1.4 5,0 3,0 C1,0 0,-1.4 0,-3.5 V-6.5 C0,-8.6 1,-10 3,-10 Z"/><path vector-effect="non-scaling-stroke" transform="translate(16.4 0)" d="M3,-10 C5,-10 6,-8.6 6,-6.5 V-3.5 C6,-1.4 5,0 3,0 C1,0 0,-1.4 0,-3.5 V-6.5 C0,-8.6 1,-10 3,-10 Z"/></g>
<g transform="translate(173.1 650.6) translate(1 -1) skewX(-19) scale(0.8373 1.2000)" fill="none" stroke="#1e1e1e" stroke-width="2" stroke-linecap="round" stroke-linejoin="round"><path vector-effect="non-scaling-stroke" transform="translate(0 0)" d="M0.2,-7.6 C0.5,-9.1 1.6,-10 3,-10 C4.7,-10 5.8,-9 5.8,-7.4 C5.8,-5.6 4.2,-4.4 0,0 H6"/></g>
<line x1="185.9" y1="645" x2="191.3" y2="645" stroke="#1e1e1e" stroke-width="1.9"/>
<g transform="translate(195.4 650.6) translate(1 -1) skewX(-19) scale(0.7648 1.2000)" fill="none" stroke="#1e1e1e" stroke-width="2" stroke-linecap="round" stroke-linejoin="round"><path vector-effect="non-scaling-stroke" transform="translate(0 0)" d="M0.2,-7.6 C0.5,-9.1 1.6,-10 3,-10 C4.7,-10 5.8,-9 5.8,-7.4 C5.8,-5.6 4.2,-4.4 0,0 H6"/></g>
<g transform="translate(78.8 662) translate(0.88 -0.88) skewX(-19) scale(1.1427 1.0550)" fill="none" stroke="#1e1e1e" stroke-width="1.75" stroke-linecap="round" stroke-linejoin="round"><path vector-effect="non-scaling-stroke" transform="translate(0 0)" d="M0,0 V-10 H3.6 C5.2,-10 6,-9 6,-7.6 C6,-6.2 5.2,-5.2 3.6,-5.2 H0"/><path vector-effect="non-scaling-stroke" transform="translate(8.2 0)" d="M0,-7 V-2.5 C0,-0.8 1,0 2.6,0 C4.2,0 5.5,-0.8 5.5,-2.5 V-7 M5.5,-2.5 V0"/><path vector-effect="non-scaling-stroke" transform="translate(15.9 0)" d="M5,-5.6 C4.6,-6.6 3.7,-7 2.6,-7 C1.1,-7 0,-5.6 0,-3.5 C0,-1.4 1.1,0 2.6,0 C3.7,0 4.6,-0.4 5,-1.4"/><path vector-effect="non-scaling-stroke" transform="translate(23.1 0)" d="M0,-7 V0 M0,-3.3 L5,-7 M1.7,-4.5 L5,0"/><path vector-effect="non-scaling-stroke" transform="translate(30.3 0)" d="M0,-7 V-2.5 C0,-0.8 1,0 2.6,0 C4.2,0 5.5,-0.8 5.5,-2.5 V-7 M5.5,-2.5 V0"/></g>
<line x1="77" y1="663.8" x2="136.5" y2="663.8" stroke="#2a2a2a" stroke-width="1.2"/>
<line x1="136.5" y1="663.8" x2="180" y2="684.5" stroke="#2a2a2a" stroke-width="1.3"/>
<line x1="136.5" y1="663.8" x2="168.5" y2="696.5" stroke="#2a2a2a" stroke-width="1.3"/>
<polygon points="167,683.4 184.5,683.4 187.5,687 190.5,683.4 207.6,683.4 207.6,695 204.5,698.3 207.6,701.6 207.6,713.7 190.5,713.7 187.5,710 184.5,713.7 167,713.7 167,701.6 170,698.3 167,695" fill="none" stroke="#1e1e1e" stroke-width="1.5" stroke-linejoin="miter"/>
<line x1="187.5" y1="678" x2="187.5" y2="754" stroke="#444" stroke-width="0.9" stroke-dasharray="7,3,2,3"/>
<line x1="160" y1="697.8" x2="244" y2="697.8" stroke="#444" stroke-width="0.9" stroke-dasharray="7,3,2,3"/>
<line x1="207.6" y1="683.4" x2="279" y2="683.4" stroke="#2a2a2a" stroke-width="1.3"/>
<line x1="207.6" y1="713.7" x2="279" y2="713.7" stroke="#2a2a2a" stroke-width="1.3"/>
<line x1="242" y1="676" x2="242" y2="723" stroke="#2a2a2a" stroke-width="1.3"/>
<line x1="238.4" y1="679.8" x2="245.6" y2="687" stroke="#1e1e1e" stroke-width="1.7"/>
<line x1="238.4" y1="694.2" x2="245.6" y2="701.4" stroke="#1e1e1e" stroke-width="1.7"/>
<line x1="238.4" y1="710.1" x2="245.6" y2="717.3" stroke="#1e1e1e" stroke-width="1.7"/>
<g transform="translate(240.5 696) rotate(-90) translate(0.93 -0.93) skewX(-19) scale(0.5804 0.8150)" fill="none" stroke="#1e1e1e" stroke-width="1.85" stroke-linecap="round" stroke-linejoin="round"><path vector-effect="non-scaling-stroke" transform="translate(0 0)" d="M0.2,-7.6 C0.5,-9.1 1.6,-10 3,-10 C4.7,-10 5.8,-9 5.8,-7.4 C5.8,-5.6 4.2,-4.4 0,0 H6"/><path vector-effect="non-scaling-stroke" transform="translate(8.2 0)" d="M3,-10 C5,-10 6,-8.6 6,-6.5 V-3.5 C6,-1.4 5,0 3,0 C1,0 0,-1.4 0,-3.5 V-6.5 C0,-8.6 1,-10 3,-10 Z"/><path vector-effect="non-scaling-stroke" transform="translate(16.4 0)" d="M3,-10 C5,-10 6,-8.6 6,-6.5 V-3.5 C6,-1.4 5,0 3,0 C1,0 0,-1.4 0,-3.5 V-6.5 C0,-8.6 1,-10 3,-10 Z"/></g>
<g transform="translate(240.5 714) rotate(-90) translate(0.93 -0.93) skewX(-19) scale(0.5121 0.8150)" fill="none" stroke="#1e1e1e" stroke-width="1.85" stroke-linecap="round" stroke-linejoin="round"><path vector-effect="non-scaling-stroke" transform="translate(0 0)" d="M0.2,-7.6 C0.5,-9.1 1.6,-10 3,-10 C4.7,-10 5.8,-9 5.8,-7.4 C5.8,-5.6 4.2,-4.4 0,0 H6"/><path vector-effect="non-scaling-stroke" transform="translate(8.2 0)" d="M3,-10 C5,-10 6,-8.6 6,-6.5 V-3.5 C6,-1.4 5,0 3,0 C1,0 0,-1.4 0,-3.5 V-6.5 C0,-8.6 1,-10 3,-10 Z"/><path vector-effect="non-scaling-stroke" transform="translate(16.4 0)" d="M3,-10 C5,-10 6,-8.6 6,-6.5 V-3.5 C6,-1.4 5,0 3,0 C1,0 0,-1.4 0,-3.5 V-6.5 C0,-8.6 1,-10 3,-10 Z"/></g>
<line x1="272.5" y1="678" x2="272.5" y2="720" stroke="#2a2a2a" stroke-width="1.3"/>
<line x1="268.9" y1="679.8" x2="276.1" y2="687" stroke="#1e1e1e" stroke-width="1.7"/>
<line x1="268.9" y1="710.1" x2="276.1" y2="717.3" stroke="#1e1e1e" stroke-width="1.7"/>
<g transform="translate(271.5 709) rotate(-90) translate(-0.11 -0.93) skewX(-19) scale(0.9043 0.9150)" fill="none" stroke="#1e1e1e" stroke-width="1.85" stroke-linecap="round" stroke-linejoin="round"><path vector-effect="non-scaling-stroke" transform="translate(0 0)" d="M4.7,-10 L0,-3.3 H6 M4.7,-10 V0"/><path vector-effect="non-scaling-stroke" transform="translate(8.2 0)" d="M3,-10 C5,-10 6,-8.6 6,-6.5 V-3.5 C6,-1.4 5,0 3,0 C1,0 0,-1.4 0,-3.5 V-6.5 C0,-8.6 1,-10 3,-10 Z"/><path vector-effect="non-scaling-stroke" transform="translate(16.4 0)" d="M3,-10 C5,-10 6,-8.6 6,-6.5 V-3.5 C6,-1.4 5,0 3,0 C1,0 0,-1.4 0,-3.5 V-6.5 C0,-8.6 1,-10 3,-10 Z"/></g>
<line x1="167" y1="713.7" x2="167" y2="778" stroke="#2a2a2a" stroke-width="1.3"/>
<line x1="207.6" y1="713.7" x2="207.6" y2="778" stroke="#2a2a2a" stroke-width="1.3"/>
<line x1="163" y1="748" x2="213" y2="748" stroke="#2a2a2a" stroke-width="1.3"/>
<line x1="163.4" y1="751.6" x2="170.6" y2="744.4" stroke="#1e1e1e" stroke-width="1.7"/>
<line x1="183.9" y1="751.6" x2="191.1" y2="744.4" stroke="#1e1e1e" stroke-width="1.7"/>
<line x1="204" y1="751.6" x2="211.2" y2="744.4" stroke="#1e1e1e" stroke-width="1.7"/>
<g transform="translate(168 746.5) translate(0.93 -0.93) skewX(-19) scale(0.6550 0.7650)" fill="none" stroke="#1e1e1e" stroke-width="1.85" stroke-linecap="round" stroke-linejoin="round"><path vector-effect="non-scaling-stroke" transform="translate(0 0)" d="M0.2,-7.6 C0.5,-9.1 1.6,-10 3,-10 C4.7,-10 5.8,-9 5.8,-7.4 C5.8,-5.6 4.2,-4.4 0,0 H6"/><path vector-effect="non-scaling-stroke" transform="translate(8.2 0)" d="M5.6,-10 H1 L0.4,-5.5 C1.2,-6 2,-6.3 3,-6.3 C4.9,-6.3 6,-5 6,-3.1 C6,-1.2 4.7,0 3,0 C1.5,0 0.4,-0.6 0,-1.8"/><path vector-effect="non-scaling-stroke" transform="translate(16.4 0)" d="M3,-10 C5,-10 6,-8.6 6,-6.5 V-3.5 C6,-1.4 5,0 3,0 C1,0 0,-1.4 0,-3.5 V-6.5 C0,-8.6 1,-10 3,-10 Z"/></g>
<g transform="translate(190 746.5) translate(0.93 -0.93) skewX(-19) scale(0.5870 0.7650)" fill="none" stroke="#1e1e1e" stroke-width="1.85" stroke-linecap="round" stroke-linejoin="round"><path vector-effect="non-scaling-stroke" transform="translate(0 0)" d="M0.2,-7.6 C0.5,-9.1 1.6,-10 3,-10 C4.7,-10 5.8,-9 5.8,-7.4 C5.8,-5.6 4.2,-4.4 0,0 H6"/><path vector-effect="non-scaling-stroke" transform="translate(8.2 0)" d="M5.6,-10 H1 L0.4,-5.5 C1.2,-6 2,-6.3 3,-6.3 C4.9,-6.3 6,-5 6,-3.1 C6,-1.2 4.7,0 3,0 C1.5,0 0.4,-0.6 0,-1.8"/><path vector-effect="non-scaling-stroke" transform="translate(16.4 0)" d="M3,-10 C5,-10 6,-8.6 6,-6.5 V-3.5 C6,-1.4 5,0 3,0 C1,0 0,-1.4 0,-3.5 V-6.5 C0,-8.6 1,-10 3,-10 Z"/></g>
<line x1="163" y1="773" x2="213" y2="773" stroke="#2a2a2a" stroke-width="1.3"/>
<line x1="163.4" y1="776.6" x2="170.6" y2="769.4" stroke="#1e1e1e" stroke-width="1.7"/>
<line x1="204" y1="776.6" x2="211.2" y2="769.4" stroke="#1e1e1e" stroke-width="1.7"/>
<g transform="translate(178.8 772) translate(0.42 -0.93) skewX(-19) scale(0.8837 0.8150)" fill="none" stroke="#1e1e1e" stroke-width="1.85" stroke-linecap="round" stroke-linejoin="round"><path vector-effect="non-scaling-stroke" transform="translate(0 0)" d="M5.6,-10 H1 L0.4,-5.5 C1.2,-6 2,-6.3 3,-6.3 C4.9,-6.3 6,-5 6,-3.1 C6,-1.2 4.7,0 3,0 C1.5,0 0.4,-0.6 0,-1.8"/><path vector-effect="non-scaling-stroke" transform="translate(8.2 0)" d="M3,-10 C5,-10 6,-8.6 6,-6.5 V-3.5 C6,-1.4 5,0 3,0 C1,0 0,-1.4 0,-3.5 V-6.5 C0,-8.6 1,-10 3,-10 Z"/><path vector-effect="non-scaling-stroke" transform="translate(16.4 0)" d="M3,-10 C5,-10 6,-8.6 6,-6.5 V-3.5 C6,-1.4 5,0 3,0 C1,0 0,-1.4 0,-3.5 V-6.5 C0,-8.6 1,-10 3,-10 Z"/></g>
<g transform="translate(624.7 42) translate(0.21 -1) skewX(-19) scale(0.8077 1.2100)" fill="none" stroke="#1e1e1e" stroke-width="2" stroke-linecap="round" stroke-linejoin="round"><path vector-effect="non-scaling-stroke" transform="translate(0 0)" d="M0.6,-10 H5.6 L2.4,-5.8 C4.6,-5.9 6,-4.5 6,-2.8 C6,-1 4.6,0 3,0 C1.5,0 0.4,-0.7 0,-2"/></g>
<line x1="637.5" y1="35.4" x2="642.5" y2="35.4" stroke="#1e1e1e" stroke-width="1.9"/>
<g transform="translate(646.4 42) translate(0.2 -1) skewX(-19) scale(0.8631 1.2100)" fill="none" stroke="#1e1e1e" stroke-width="2" stroke-linecap="round" stroke-linejoin="round"><path vector-effect="non-scaling-stroke" transform="translate(0 0)" d="M0.6,-10 H5.6 L2.4,-5.8 C4.6,-5.9 6,-4.5 6,-2.8 C6,-1 4.6,0 3,0 C1.5,0 0.4,-0.7 0,-2"/></g>
<line x1="607.2" y1="75" x2="669.6" y2="75" stroke="#1e1e1e" stroke-width="1.3"/>
<line x1="607.2" y1="161" x2="669.6" y2="161" stroke="#1e1e1e" stroke-width="1.3"/>
<line x1="607.2" y1="75" x2="607.2" y2="161" stroke="#1e1e1e" stroke-width="1.3"/>
<line x1="669.6" y1="75" x2="669.6" y2="161" stroke="#1e1e1e" stroke-width="1.3"/>
<line x1="609.5" y1="81.2" x2="665.5" y2="81.2" stroke="#1e1e1e" stroke-width="1.8"/>
<line x1="609.5" y1="156" x2="665.5" y2="156" stroke="#1e1e1e" stroke-width="1.8"/>
<line x1="613.7" y1="78.5" x2="613.7" y2="160" stroke="#1e1e1e" stroke-width="1.8"/>
<line x1="661.9" y1="78.5" x2="661.9" y2="160" stroke="#1e1e1e" stroke-width="1.8"/>
<circle cx="617" cy="86" r="1.7" fill="none" stroke="#1e1e1e" stroke-width="1.5"/>
<circle cx="658" cy="86" r="1.7" fill="none" stroke="#1e1e1e" stroke-width="1.5"/>
<circle cx="617" cy="151.5" r="1.7" fill="none" stroke="#1e1e1e" stroke-width="1.5"/>
<circle cx="658" cy="151.5" r="1.7" fill="none" stroke="#1e1e1e" stroke-width="1.5"/>
<line x1="669.6" y1="75" x2="750" y2="75" stroke="#2a2a2a" stroke-width="1.3"/>
<line x1="669.6" y1="161" x2="750" y2="161" stroke="#2a2a2a" stroke-width="1.3"/>
<line x1="666" y1="86" x2="711" y2="86" stroke="#2a2a2a" stroke-width="1.3"/>
<line x1="708" y1="55" x2="708" y2="90" stroke="#2a2a2a" stroke-width="1.3"/>
<line x1="704.4" y1="71.4" x2="711.6" y2="78.6" stroke="#1e1e1e" stroke-width="1.7"/>
<line x1="704.4" y1="82.4" x2="711.6" y2="89.6" stroke="#1e1e1e" stroke-width="1.7"/>
<g transform="translate(706 68.8) rotate(-90) translate(-0.23 -0.93) skewX(-19) scale(0.7780 1.0150)" fill="none" stroke="#1e1e1e" stroke-width="1.85" stroke-linecap="round" stroke-linejoin="round"><path vector-effect="non-scaling-stroke" transform="translate(0 0)" d="M4.7,-10 L0,-3.3 H6 M4.7,-10 V0"/><path vector-effect="non-scaling-stroke" transform="translate(8.2 0)" d="M3,-10 C5,-10 6,-8.6 6,-6.5 V-3.5 C6,-1.4 5,0 3,0 C1,0 0,-1.4 0,-3.5 V-6.5 C0,-8.6 1,-10 3,-10 Z"/></g>
<line x1="741.3" y1="70" x2="741.3" y2="167" stroke="#2a2a2a" stroke-width="1.3"/>
<line x1="737.7" y1="71.4" x2="744.9" y2="78.6" stroke="#1e1e1e" stroke-width="1.7"/>
<line x1="737.7" y1="157.4" x2="744.9" y2="164.6" stroke="#1e1e1e" stroke-width="1.7"/>
<text transform="translate(740 147.5) rotate(-90) translate(-0.77 0) skewX(-8)" font-size="15.71" font-style="italic" font-weight="normal" fill="#1e1e1e" stroke="#1e1e1e" stroke-width="0.25" textLength="62.5" lengthAdjust="spacingAndGlyphs">Перемен.</text>
<g transform="translate(566.5 116) translate(-0.48 -0.93) skewX(-19) scale(0.7987 1.0650)" fill="none" stroke="#1e1e1e" stroke-width="1.85" stroke-linecap="round" stroke-linejoin="round"><path vector-effect="non-scaling-stroke" transform="translate(0 0)" d="M1.2,-5.3 L3,-6.4 M3,-10 V0"/></g>
<line x1="557.5" y1="117.5" x2="580" y2="117.5" stroke="#2a2a2a" stroke-width="1.2"/>
<line x1="580" y1="117.5" x2="613" y2="108" stroke="#2a2a2a" stroke-width="1.3"/>
<line x1="580" y1="117.5" x2="636" y2="155" stroke="#2a2a2a" stroke-width="1.3"/>
<circle cx="665.7" cy="157" r="15.4" fill="none" stroke="#2a2a2a" stroke-width="1"/>
<g transform="translate(716 186) translate(0.11 -0.93) skewX(-19) scale(0.9801 1.0150)" fill="none" stroke="#1e1e1e" stroke-width="1.85" stroke-linecap="round" stroke-linejoin="round"><path vector-effect="non-scaling-stroke" transform="translate(0 0)" d="M5.5,-8.8 C5,-9.6 4.1,-10 3,-10 C1,-10 0,-8.2 0,-5 V-3 C0,-1.1 1.2,0 3,0 C4.8,0 6,-1.2 6,-3 C6,-4.8 4.8,-5.9 3,-5.9 C1.6,-5.9 0.5,-5.2 0,-4"/></g>
<line x1="710" y1="186.5" x2="731.5" y2="186.5" stroke="#2a2a2a" stroke-width="1.2"/>
<line x1="710" y1="186.5" x2="678" y2="164" stroke="#2a2a2a" stroke-width="1.3"/>
<line x1="607.7" y1="161" x2="607.7" y2="235" stroke="#2a2a2a" stroke-width="1.3"/>
<line x1="669.6" y1="161" x2="669.6" y2="235" stroke="#2a2a2a" stroke-width="1.3"/>
<line x1="613.7" y1="161" x2="613.7" y2="206.5" stroke="#2a2a2a" stroke-width="1.3"/>
<line x1="661.9" y1="161" x2="661.9" y2="206.5" stroke="#2a2a2a" stroke-width="1.3"/>
<line x1="589" y1="197.2" x2="692.5" y2="197.2" stroke="#2a2a2a" stroke-width="1.3"/>
<line x1="604.1" y1="200.8" x2="611.3" y2="193.6" stroke="#1e1e1e" stroke-width="1.7"/>
<line x1="610.1" y1="200.8" x2="617.3" y2="193.6" stroke="#1e1e1e" stroke-width="1.7"/>
<line x1="658.3" y1="200.8" x2="665.5" y2="193.6" stroke="#1e1e1e" stroke-width="1.7"/>
<line x1="666" y1="200.8" x2="673.2" y2="193.6" stroke="#1e1e1e" stroke-width="1.7"/>
<g transform="translate(589.8 194.5) translate(-0.53 -0.93) skewX(-19) scale(0.9096 0.9350)" fill="none" stroke="#1e1e1e" stroke-width="1.85" stroke-linecap="round" stroke-linejoin="round"><path vector-effect="non-scaling-stroke" transform="translate(0 0)" d="M0,-10 H6 C3.8,-7.5 2.4,-4.5 1.6,0"/><path vector-effect="non-scaling-stroke" transform="translate(8.2 0)" d="M3,-10 C5,-10 6,-8.6 6,-6.5 V-3.5 C6,-1.4 5,0 3,0 C1,0 0,-1.4 0,-3.5 V-6.5 C0,-8.6 1,-10 3,-10 Z"/></g>
<g transform="translate(628.8 193.8) translate(0.93 -0.93) skewX(-19) scale(0.9800 0.9450)" fill="none" stroke="#1e1e1e" stroke-width="1.85" stroke-linecap="round" stroke-linejoin="round"><path vector-effect="non-scaling-stroke" transform="translate(0 0)" d="M0.2,-7.6 C0.5,-9.1 1.6,-10 3,-10 C4.7,-10 5.8,-9 5.8,-7.4 C5.8,-5.6 4.2,-4.4 0,0 H6"/><path vector-effect="non-scaling-stroke" transform="translate(8.2 0)" d="M5.5,-8.8 C5,-9.6 4.1,-10 3,-10 C1,-10 0,-8.2 0,-5 V-3 C0,-1.1 1.2,0 3,0 C4.8,0 6,-1.2 6,-3 C6,-4.8 4.8,-5.9 3,-5.9 C1.6,-5.9 0.5,-5.2 0,-4"/><path vector-effect="non-scaling-stroke" transform="translate(16.4 0)" d="M3,-10 C5,-10 6,-8.6 6,-6.5 V-3.5 C6,-1.4 5,0 3,0 C1,0 0,-1.4 0,-3.5 V-6.5 C0,-8.6 1,-10 3,-10 Z"/></g>
<g transform="translate(676.8 194.5) translate(-0.63 -0.93) skewX(-19) scale(0.9745 0.9350)" fill="none" stroke="#1e1e1e" stroke-width="1.85" stroke-linecap="round" stroke-linejoin="round"><path vector-effect="non-scaling-stroke" transform="translate(0 0)" d="M0,-10 H6 C3.8,-7.5 2.4,-4.5 1.6,0"/><path vector-effect="non-scaling-stroke" transform="translate(8.2 0)" d="M3,-10 C5,-10 6,-8.6 6,-6.5 V-3.5 C6,-1.4 5,0 3,0 C1,0 0,-1.4 0,-3.5 V-6.5 C0,-8.6 1,-10 3,-10 Z"/></g>
<line x1="602" y1="226" x2="675" y2="226" stroke="#2a2a2a" stroke-width="1.3"/>
<line x1="604.1" y1="229.6" x2="611.3" y2="222.4" stroke="#1e1e1e" stroke-width="1.7"/>
<line x1="666" y1="229.6" x2="673.2" y2="222.4" stroke="#1e1e1e" stroke-width="1.7"/>
<g transform="translate(626.5 223.8) translate(-0.15 -0.93) skewX(-19) scale(0.9653 0.9450)" fill="none" stroke="#1e1e1e" stroke-width="1.85" stroke-linecap="round" stroke-linejoin="round"><path vector-effect="non-scaling-stroke" transform="translate(0 0)" d="M4.7,-10 L0,-3.3 H6 M4.7,-10 V0"/><path vector-effect="non-scaling-stroke" transform="translate(8.2 0)" d="M3,-10 C5,-10 6,-8.6 6,-6.5 V-3.5 C6,-1.4 5,0 3,0 C1,0 0,-1.4 0,-3.5 V-6.5 C0,-8.6 1,-10 3,-10 Z"/><path vector-effect="non-scaling-stroke" transform="translate(16.4 0)" d="M3,-10 C5,-10 6,-8.6 6,-6.5 V-3.5 C6,-1.4 5,0 3,0 C1,0 0,-1.4 0,-3.5 V-6.5 C0,-8.6 1,-10 3,-10 Z"/></g>
<g transform="translate(625.3 283.8) translate(-0.41 -1) skewX(-19) scale(0.9445 1.2400)" fill="none" stroke="#1e1e1e" stroke-width="2" stroke-linecap="round" stroke-linejoin="round"><path vector-effect="non-scaling-stroke" transform="translate(0 0)" d="M4.7,-10 L0,-3.3 H6 M4.7,-10 V0"/></g>
<line x1="636.6" y1="278.1" x2="642.5" y2="278.1" stroke="#1e1e1e" stroke-width="1.9"/>
<g transform="translate(646.4 283.8) translate(-0.41 -1) skewX(-19) scale(0.9658 1.2400)" fill="none" stroke="#1e1e1e" stroke-width="2" stroke-linecap="round" stroke-linejoin="round"><path vector-effect="non-scaling-stroke" transform="translate(0 0)" d="M4.7,-10 L0,-3.3 H6 M4.7,-10 V0"/></g>
<polygon points="605.8,312 682.5,312 682.5,374.5 605.8,374.5" fill="none" stroke="#1e1e1e" stroke-width="1.3" stroke-linejoin="miter"/>
<line x1="608" y1="318.2" x2="680" y2="318.2" stroke="#1e1e1e" stroke-width="1.8"/>
<line x1="608" y1="369.5" x2="680" y2="369.5" stroke="#1e1e1e" stroke-width="1.8"/>
<line x1="610.7" y1="314" x2="610.7" y2="373.5" stroke="#1e1e1e" stroke-width="1.8"/>
<line x1="678" y1="314" x2="678" y2="373" stroke="#1e1e1e" stroke-width="1.8"/>
<circle cx="614" cy="320.6" r="2.3" fill="#1e1e1e"/>
<circle cx="614" cy="367" r="2.3" fill="#1e1e1e"/>
<circle cx="634" cy="320.6" r="2.3" fill="#1e1e1e"/>
<circle cx="634" cy="367" r="2.3" fill="#1e1e1e"/>
<circle cx="656" cy="320.6" r="2.3" fill="#1e1e1e"/>
<circle cx="656" cy="367" r="2.3" fill="#1e1e1e"/>
<circle cx="675" cy="320.6" r="2.3" fill="#1e1e1e"/>
<circle cx="675" cy="367" r="2.3" fill="#1e1e1e"/>
<line x1="682.5" y1="312" x2="752" y2="312" stroke="#2a2a2a" stroke-width="1.3"/>
<line x1="682.5" y1="374.5" x2="752" y2="374.5" stroke="#2a2a2a" stroke-width="1.3"/>
<line x1="740.5" y1="306" x2="740.5" y2="381" stroke="#2a2a2a" stroke-width="1.3"/>
<line x1="736.9" y1="308.4" x2="744.1" y2="315.6" stroke="#1e1e1e" stroke-width="1.7"/>
<line x1="736.9" y1="370.9" x2="744.1" y2="378.1" stroke="#1e1e1e" stroke-width="1.7"/>
<g transform="translate(739 352.5) rotate(-90) translate(-0.06 -0.93) skewX(-19) scale(0.9126 0.8650)" fill="none" stroke="#1e1e1e" stroke-width="1.85" stroke-linecap="round" stroke-linejoin="round"><path vector-effect="non-scaling-stroke" transform="translate(0 0)" d="M4.7,-10 L0,-3.3 H6 M4.7,-10 V0"/><path vector-effect="non-scaling-stroke" transform="translate(8.2 0)" d="M3,-10 C5,-10 6,-8.6 6,-6.5 V-3.5 C6,-1.4 5,0 3,0 C1,0 0,-1.4 0,-3.5 V-6.5 C0,-8.6 1,-10 3,-10 Z"/><path vector-effect="non-scaling-stroke" transform="translate(16.4 0)" d="M3,-10 C5,-10 6,-8.6 6,-6.5 V-3.5 C6,-1.4 5,0 3,0 C1,0 0,-1.4 0,-3.5 V-6.5 C0,-8.6 1,-10 3,-10 Z"/></g>
<circle cx="682.5" cy="372" r="14.3" fill="none" stroke="#2a2a2a" stroke-width="1"/>
<g transform="translate(722.5 404) translate(0.93 -0.93) skewX(-19) scale(0.9515 0.9650)" fill="none" stroke="#1e1e1e" stroke-width="1.85" stroke-linecap="round" stroke-linejoin="round"><path vector-effect="non-scaling-stroke" transform="translate(0 0)" d="M0.2,-7.6 C0.5,-9.1 1.6,-10 3,-10 C4.7,-10 5.8,-9 5.8,-7.4 C5.8,-5.6 4.2,-4.4 0,0 H6"/></g>
<line x1="716" y1="407" x2="740" y2="407" stroke="#2a2a2a" stroke-width="1.2"/>
<line x1="716" y1="407" x2="694" y2="383" stroke="#2a2a2a" stroke-width="1.3"/>
<g transform="translate(561 340) translate(0.87 -0.93) skewX(-19) scale(0.6863 0.9150)" fill="none" stroke="#1e1e1e" stroke-width="1.85" stroke-linecap="round" stroke-linejoin="round"><path vector-effect="non-scaling-stroke" transform="translate(0 0)" d="M1.2,-5.3 L3,-6.4 M3,-10 V0"/></g>
<line x1="552.5" y1="340.5" x2="576" y2="340.5" stroke="#2a2a2a" stroke-width="1.2"/>
<line x1="576" y1="340.5" x2="610" y2="333" stroke="#2a2a2a" stroke-width="1.3"/>
<line x1="576" y1="340.5" x2="639" y2="369" stroke="#2a2a2a" stroke-width="1.3"/>
<line x1="605.8" y1="374.5" x2="605.8" y2="445" stroke="#2a2a2a" stroke-width="1.3"/>
<line x1="682.5" y1="374.5" x2="682.5" y2="445" stroke="#2a2a2a" stroke-width="1.3"/>
<line x1="610.7" y1="374.5" x2="610.7" y2="405" stroke="#777" stroke-width="0.9"/>
<line x1="678" y1="374.5" x2="678" y2="405" stroke="#777" stroke-width="0.9"/>
<line x1="613.8" y1="370" x2="613.8" y2="421" stroke="#2a2a2a" stroke-width="1.3"/>
<line x1="675" y1="370" x2="675" y2="421" stroke="#2a2a2a" stroke-width="1.3"/>
<line x1="585" y1="415" x2="619" y2="415" stroke="#2a2a2a" stroke-width="1.3"/>
<line x1="669" y1="415" x2="705" y2="415" stroke="#2a2a2a" stroke-width="1.3"/>
<line x1="602.2" y1="418.6" x2="609.4" y2="411.4" stroke="#1e1e1e" stroke-width="1.7"/>
<line x1="610.2" y1="418.6" x2="617.4" y2="411.4" stroke="#1e1e1e" stroke-width="1.7"/>
<line x1="671.4" y1="418.6" x2="678.6" y2="411.4" stroke="#1e1e1e" stroke-width="1.7"/>
<line x1="678.9" y1="418.6" x2="686.1" y2="411.4" stroke="#1e1e1e" stroke-width="1.7"/>
<g transform="translate(587.5 410) translate(-0 -0.93) skewX(-19) scale(0.9527 0.8150)" fill="none" stroke="#1e1e1e" stroke-width="1.85" stroke-linecap="round" stroke-linejoin="round"><path vector-effect="non-scaling-stroke" transform="translate(0 0)" d="M4.7,-10 L0,-3.3 H6 M4.7,-10 V0"/><path vector-effect="non-scaling-stroke" transform="translate(8.2 0)" d="M3,-10 C5,-10 6,-8.6 6,-6.5 V-3.5 C6,-1.4 5,0 3,0 C1,0 0,-1.4 0,-3.5 V-6.5 C0,-8.6 1,-10 3,-10 Z"/></g>
<g transform="translate(687.5 410) translate(-0 -0.93) skewX(-19) scale(0.9527 0.8150)" fill="none" stroke="#1e1e1e" stroke-width="1.85" stroke-linecap="round" stroke-linejoin="round"><path vector-effect="non-scaling-stroke" transform="translate(0 0)" d="M4.7,-10 L0,-3.3 H6 M4.7,-10 V0"/><path vector-effect="non-scaling-stroke" transform="translate(8.2 0)" d="M3,-10 C5,-10 6,-8.6 6,-6.5 V-3.5 C6,-1.4 5,0 3,0 C1,0 0,-1.4 0,-3.5 V-6.5 C0,-8.6 1,-10 3,-10 Z"/></g>
<line x1="601" y1="437" x2="689" y2="437" stroke="#2a2a2a" stroke-width="1.3"/>
<line x1="602.2" y1="440.6" x2="609.4" y2="433.4" stroke="#1e1e1e" stroke-width="1.7"/>
<line x1="678.9" y1="440.6" x2="686.1" y2="433.4" stroke="#1e1e1e" stroke-width="1.7"/>
<g transform="translate(636 436) translate(0.42 -0.93) skewX(-19) scale(0.9647 0.8150)" fill="none" stroke="#1e1e1e" stroke-width="1.85" stroke-linecap="round" stroke-linejoin="round"><path vector-effect="non-scaling-stroke" transform="translate(0 0)" d="M5.6,-10 H1 L0.4,-5.5 C1.2,-6 2,-6.3 3,-6.3 C4.9,-6.3 6,-5 6,-3.1 C6,-1.2 4.7,0 3,0 C1.5,0 0.4,-0.6 0,-1.8"/><path vector-effect="non-scaling-stroke" transform="translate(8.2 0)" d="M3,-10 C5,-10 6,-8.6 6,-6.5 V-3.5 C6,-1.4 5,0 3,0 C1,0 0,-1.4 0,-3.5 V-6.5 C0,-8.6 1,-10 3,-10 Z"/><path vector-effect="non-scaling-stroke" transform="translate(16.4 0)" d="M3,-10 C5,-10 6,-8.6 6,-6.5 V-3.5 C6,-1.4 5,0 3,0 C1,0 0,-1.4 0,-3.5 V-6.5 C0,-8.6 1,-10 3,-10 Z"/></g>
<g transform="translate(631.9 486.3) translate(0.36 -1) skewX(-19) scale(1.0700 1.0300)" fill="none" stroke="#1e1e1e" stroke-width="2" stroke-linecap="round" stroke-linejoin="round"><path vector-effect="non-scaling-stroke" transform="translate(0 0)" d="M5.6,-10 H1 L0.4,-5.5 C1.2,-6 2,-6.3 3,-6.3 C4.9,-6.3 6,-5 6,-3.1 C6,-1.2 4.7,0 3,0 C1.5,0 0.4,-0.6 0,-1.8"/></g>
<line x1="644.7" y1="480.1" x2="650.6" y2="480.1" stroke="#1e1e1e" stroke-width="1.9"/>
<g transform="translate(653.4 486.3) translate(0.36 -1) skewX(-19) scale(1.0164 1.0300)" fill="none" stroke="#1e1e1e" stroke-width="2" stroke-linecap="round" stroke-linejoin="round"><path vector-effect="non-scaling-stroke" transform="translate(0 0)" d="M5.6,-10 H1 L0.4,-5.5 C1.2,-6 2,-6.3 3,-6.3 C4.9,-6.3 6,-5 6,-3.1 C6,-1.2 4.7,0 3,0 C1.5,0 0.4,-0.6 0,-1.8"/></g>
<polygon points="607,510.5 685,510.5 685,570.5 607,570.5" fill="none" stroke="#1e1e1e" stroke-width="1.3" stroke-linejoin="miter"/>
<line x1="609" y1="517" x2="683" y2="517" stroke="#1e1e1e" stroke-width="1.8"/>
<line x1="609" y1="565" x2="683" y2="565" stroke="#1e1e1e" stroke-width="1.8"/>
<line x1="611.3" y1="514" x2="611.3" y2="568" stroke="#1e1e1e" stroke-width="1.8"/>
<line x1="680.5" y1="514" x2="680.5" y2="568" stroke="#1e1e1e" stroke-width="1.8"/>
<circle cx="615.5" cy="520" r="2.3" fill="#1e1e1e"/>
<circle cx="615.5" cy="562" r="2.3" fill="#1e1e1e"/>
<circle cx="635.5" cy="520" r="2.3" fill="#1e1e1e"/>
<circle cx="635.5" cy="562" r="2.3" fill="#1e1e1e"/>
<circle cx="657" cy="520" r="2.3" fill="#1e1e1e"/>
<circle cx="657" cy="562" r="2.3" fill="#1e1e1e"/>
<circle cx="677.5" cy="520" r="2.3" fill="#1e1e1e"/>
<circle cx="677.5" cy="562" r="2.3" fill="#1e1e1e"/>
<circle cx="615.5" cy="542.5" r="2.3" fill="#1e1e1e"/>
<circle cx="677.5" cy="542.5" r="2.3" fill="#1e1e1e"/>
<line x1="685" y1="510.5" x2="752" y2="510.5" stroke="#2a2a2a" stroke-width="1.3"/>
<line x1="685" y1="570.5" x2="752" y2="570.5" stroke="#2a2a2a" stroke-width="1.3"/>
<line x1="742.5" y1="506" x2="742.5" y2="576" stroke="#2a2a2a" stroke-width="1.3"/>
<line x1="738.9" y1="506.9" x2="746.1" y2="514.1" stroke="#1e1e1e" stroke-width="1.7"/>
<line x1="738.9" y1="566.9" x2="746.1" y2="574.1" stroke="#1e1e1e" stroke-width="1.7"/>
<g transform="translate(740 554) rotate(-90) translate(-0.06 -0.93) skewX(-19) scale(0.9801 0.8650)" fill="none" stroke="#1e1e1e" stroke-width="1.85" stroke-linecap="round" stroke-linejoin="round"><path vector-effect="non-scaling-stroke" transform="translate(0 0)" d="M4.7,-10 L0,-3.3 H6 M4.7,-10 V0"/><path vector-effect="non-scaling-stroke" transform="translate(8.2 0)" d="M3,-10 C5,-10 6,-8.6 6,-6.5 V-3.5 C6,-1.4 5,0 3,0 C1,0 0,-1.4 0,-3.5 V-6.5 C0,-8.6 1,-10 3,-10 Z"/><path vector-effect="non-scaling-stroke" transform="translate(16.4 0)" d="M3,-10 C5,-10 6,-8.6 6,-6.5 V-3.5 C6,-1.4 5,0 3,0 C1,0 0,-1.4 0,-3.5 V-6.5 C0,-8.6 1,-10 3,-10 Z"/></g>
<circle cx="682" cy="566" r="12.5" fill="none" stroke="#2a2a2a" stroke-width="1"/>
<g transform="translate(717.5 596) translate(0.93 -0.93) skewX(-19) scale(0.9767 0.9150)" fill="none" stroke="#1e1e1e" stroke-width="1.85" stroke-linecap="round" stroke-linejoin="round"><path vector-effect="non-scaling-stroke" transform="translate(0 0)" d="M0.2,-7.6 C0.5,-9.1 1.6,-10 3,-10 C4.7,-10 5.8,-9 5.8,-7.4 C5.8,-5.6 4.2,-4.4 0,0 H6"/></g>
<line x1="710" y1="598" x2="734" y2="598" stroke="#2a2a2a" stroke-width="1.2"/>
<line x1="710" y1="598" x2="690" y2="577" stroke="#2a2a2a" stroke-width="1.3"/>
<g transform="translate(565 534) translate(0.67 -0.93) skewX(-19) scale(0.7238 0.9650)" fill="none" stroke="#1e1e1e" stroke-width="1.85" stroke-linecap="round" stroke-linejoin="round"><path vector-effect="non-scaling-stroke" transform="translate(0 0)" d="M1.2,-5.3 L3,-6.4 M3,-10 V0"/></g>
<line x1="556" y1="534.5" x2="581" y2="534.5" stroke="#2a2a2a" stroke-width="1.2"/>
<line x1="581" y1="534.5" x2="605" y2="531" stroke="#2a2a2a" stroke-width="1.3"/>
<line x1="581" y1="534.5" x2="630" y2="564" stroke="#2a2a2a" stroke-width="1.3"/>
<line x1="607" y1="570.5" x2="607" y2="620" stroke="#2a2a2a" stroke-width="1.3"/>
<line x1="685" y1="570.5" x2="685" y2="620" stroke="#2a2a2a" stroke-width="1.3"/>
<line x1="602" y1="612.5" x2="690" y2="612.5" stroke="#2a2a2a" stroke-width="1.3"/>
<line x1="603.4" y1="616.1" x2="610.6" y2="608.9" stroke="#1e1e1e" stroke-width="1.7"/>
<line x1="681.4" y1="616.1" x2="688.6" y2="608.9" stroke="#1e1e1e" stroke-width="1.7"/>
<g transform="translate(639 610) translate(0.42 -0.93) skewX(-19) scale(0.9647 0.8150)" fill="none" stroke="#1e1e1e" stroke-width="1.85" stroke-linecap="round" stroke-linejoin="round"><path vector-effect="non-scaling-stroke" transform="translate(0 0)" d="M5.6,-10 H1 L0.4,-5.5 C1.2,-6 2,-6.3 3,-6.3 C4.9,-6.3 6,-5 6,-3.1 C6,-1.2 4.7,0 3,0 C1.5,0 0.4,-0.6 0,-1.8"/><path vector-effect="non-scaling-stroke" transform="translate(8.2 0)" d="M3,-10 C5,-10 6,-8.6 6,-6.5 V-3.5 C6,-1.4 5,0 3,0 C1,0 0,-1.4 0,-3.5 V-6.5 C0,-8.6 1,-10 3,-10 Z"/><path vector-effect="non-scaling-stroke" transform="translate(16.4 0)" d="M3,-10 C5,-10 6,-8.6 6,-6.5 V-3.5 C6,-1.4 5,0 3,0 C1,0 0,-1.4 0,-3.5 V-6.5 C0,-8.6 1,-10 3,-10 Z"/></g>
<circle cx="35" cy="3" r="0.8" fill="#bbb"/>
<circle cx="40" cy="8" r="0.9" fill="#bbb"/>
<circle cx="42" cy="12" r="0.7" fill="#bbb"/>
<circle cx="36" cy="17" r="0.8" fill="#bbb"/>
<circle cx="23" cy="19" r="0.7" fill="#bbb"/>
<circle cx="21" cy="11" r="0.6" fill="#bbb"/>
<circle cx="33" cy="25" r="0.7" fill="#bbb"/>
<circle cx="29" cy="30" r="0.6" fill="#bbb"/>
<circle cx="21" cy="46" r="0.7" fill="#bbb"/>
<circle cx="49" cy="12" r="0.6" fill="#bbb"/>
</svg>
</body></html>
